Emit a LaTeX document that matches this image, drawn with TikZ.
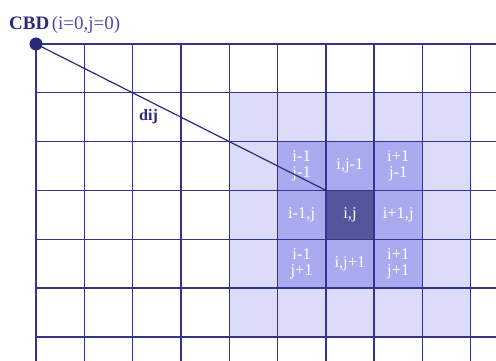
\documentclass[tikz,border=0pt]{standalone}
\usepackage{fontspec}
\setmainfont{Liberation Serif}
\definecolor{gridc}{HTML}{34348C}
\definecolor{lightc}{HTML}{DCDCFA}
\definecolor{midc}{HTML}{AAAAF0}
\definecolor{darkc}{HTML}{55559E}
\definecolor{inkc}{HTML}{2A2A7A}
\definecolor{softc}{HTML}{4C4CA8}
\begin{document}
\begin{tikzpicture}[x=1pt,y=-1pt,
  gridline/.style={draw=gridc,line width=1.4pt},
  celltext/.style={text=white,align=center,font=\fontsize{16.5}{16}\selectfont,inner sep=0pt}]
\useasboundingbox (0,0) rectangle (496,361);
\def\cx{48.3}
\def\cy{48.8}
% shaded areas
\fill[lightc] (36+4*\cx,44+\cy) rectangle (36+9*\cx,44+6*\cy);
\fill[midc] (36+5*\cx,44+2*\cy) rectangle (36+8*\cx,44+5*\cy);
\fill[darkc] (36+6*\cx,44+3*\cy) rectangle (36+7*\cx,44+4*\cy);
% grid
\foreach \k in {0,...,9} \draw[gridline] (36+\k*\cx,44) -- (36+\k*\cx,361);
\foreach \k in {0,...,6} \draw[gridline] (36,44+\k*\cy) -- (496,44+\k*\cy);
% cell labels
\node[celltext] (c11) at (36+5.5*\cx,44+2.5*\cy) {i-1\\j-1};
\node[celltext] (c21) at (36+6.5*\cx,44+2.5*\cy) {i,j-1};
\node[celltext] (c31) at (36+7.5*\cx,44+2.5*\cy) {i+1\\j-1};
\node[celltext] (c12) at (36+5.5*\cx,44+3.5*\cy) {i-1,j};
\node[celltext,minimum width=\cx pt,minimum height=\cy pt] (ij) at (36+6.5*\cx,44+3.5*\cy) {i,j};
\node[celltext] (c32) at (36+7.5*\cx,44+3.5*\cy) {i+1,j};
\node[celltext] (c13) at (36+5.5*\cx,44+4.5*\cy) {i-1\\j+1};
\node[celltext] (c23) at (36+6.5*\cx,44+4.5*\cy) {i,j+1};
\node[celltext] (c33) at (36+7.5*\cx,44+4.5*\cy) {i+1\\j+1};
% CBD point and distance
\node[circle,fill=inkc,minimum size=13pt,inner sep=0pt] (cbd) at (36,44) {};
\draw[inkc,line width=1.2pt] (cbd.center) -- (ij.north west);
\node[anchor=base west,inner sep=0pt,text=inkc] (lbl) at (9,30)
  {{\fontsize{19}{19}\selectfont\bfseries CBD} {\fontsize{19}{19}\selectfont\color{softc}(i=0,j=0)}};
\node[text=inkc,inner sep=0pt,font=\fontsize{16}{16}\selectfont\bfseries] (dij) at (148.5,117) {dij};
\end{tikzpicture}
\end{document}
